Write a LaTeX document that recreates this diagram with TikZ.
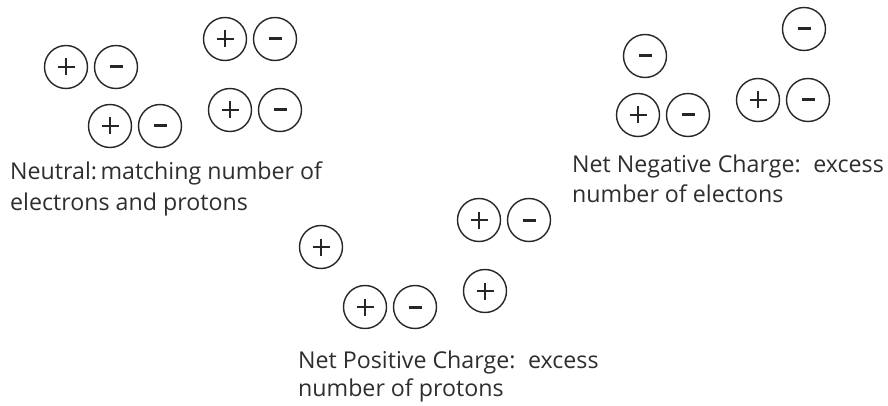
\documentclass[tikz,border=0pt]{standalone}
\usepackage{fontspec}
\setmainfont{Open Sans}
\begin{document}
\begin{tikzpicture}[x=1pt,y=-1pt,
  particle/.style={circle,draw=black!85,line width=1.4pt,minimum size=43pt,inner sep=0pt},
  lbl/.style={anchor=base west,inner sep=0pt,text=black!82,font=\fontsize{23.2}{30}\selectfont}]
\useasboundingbox (0,0) rectangle (888,406);
\tikzset{
  pl/.pic={\draw[line width=1.2pt,black!85] (-8.5,0) -- (8.5,0) (0,-8.5) -- (0,8.5);},
  mi/.pic={\draw[line width=3pt,black!85] (-6.5,0) -- (6.5,0);}
}
% Neutral group
\node[particle] (p1) at (66,67) {}; \pic at (p1.center) {pl};
\node[particle] (m1) at (116,67) {}; \pic at (m1.center) {mi};
\node[particle] (p2) at (110,126) {}; \pic at (p2.center) {pl};
\node[particle] (m2) at (160,126) {}; \pic at (m2.center) {mi};
\node[particle] (p3) at (225,39) {}; \pic at (p3.center) {pl};
\node[particle] (m3) at (275,39) {}; \pic at (m3.center) {mi};
\node[particle] (p4) at (230,110) {}; \pic at (p4.center) {pl};
\node[particle] (m4) at (280,110) {}; \pic at (m4.center) {mi};
% Positive group
\node[particle] (p5) at (321,247) {}; \pic at (p5.center) {pl};
\node[particle] (p6) at (365,307) {}; \pic at (p6.center) {pl};
\node[particle] (m6) at (415,307) {}; \pic at (m6.center) {mi};
\node[particle] (p7) at (479,220) {}; \pic at (p7.center) {pl};
\node[particle] (m7) at (529,220) {}; \pic at (m7.center) {mi};
\node[particle] (p8) at (485,291) {}; \pic at (p8.center) {pl};
% Negative group
\node[particle] (m9) at (645,56) {}; \pic at (m9.center) {mi};
\node[particle] (p10) at (638,115) {}; \pic at (p10.center) {pl};
\node[particle] (m10) at (688,115) {}; \pic at (m10.center) {mi};
\node[particle] (m11) at (804,29) {}; \pic at (m11.center) {mi};
\node[particle] (p12) at (758,100) {}; \pic at (p12.center) {pl};
\node[particle] (m12) at (808,100) {}; \pic at (m12.center) {mi};
% Labels
\node[lbl] (tn1) at (10,180) {Neutral:\hspace{0.15em}matching number of};
\node[lbl] (tn2) at (10,211) {electrons and protons};
\node[lbl] (tp1) at (298,368) {Net Positive Charge:\hspace{0.2em} excess};
\node[lbl] (tp2) at (298,396) {number of protons};
\node[lbl] (tm1) at (572,173) {Net Negative Charge:\hspace{0.2em} excess};
\node[lbl] (tm2) at (572,202) {number of electons};
\end{tikzpicture}
\end{document}
